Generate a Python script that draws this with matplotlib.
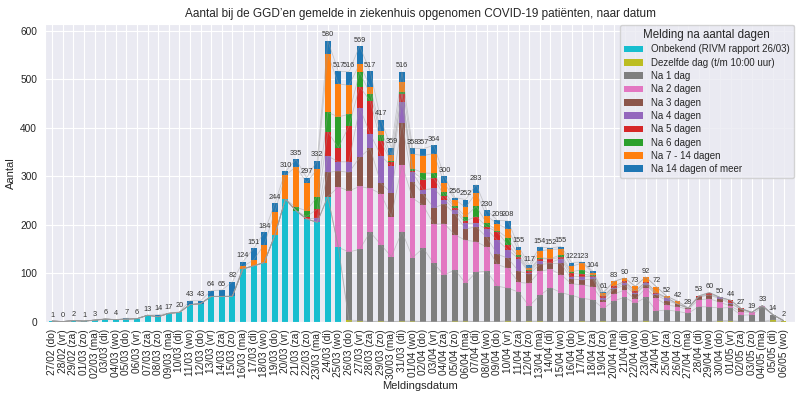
import matplotlib
matplotlib.use("Agg")
import matplotlib.pyplot as plt
import seaborn as sns
import numpy as np

dates = ["27/02 (do)", "28/02 (vr)", "29/02 (za)", "01/03 (zo)", "02/03 (ma)", "03/03 (di)", "04/03 (wo)",
         "05/03 (do)", "06/03 (vr)", "07/03 (za)", "08/03 (zo)", "09/03 (ma)", "10/03 (di)", "11/03 (wo)",
         "12/03 (do)", "13/03 (vr)", "14/03 (za)", "15/03 (zo)", "16/03 (ma)", "17/03 (di)", "18/03 (wo)",
         "19/03 (do)", "20/03 (vr)", "21/03 (za)", "22/03 (zo)", "23/03 (ma)", "24/03 (di)", "25/03 (wo)",
         "26/03 (do)", "27/03 (vr)", "28/03 (za)", "29/03 (zo)", "30/03 (ma)", "31/03 (di)", "01/04 (wo)",
         "02/04 (do)", "03/04 (vr)", "04/04 (za)", "05/04 (zo)", "06/04 (ma)", "07/04 (di)", "08/04 (wo)",
         "09/04 (do)", "10/04 (vr)", "11/04 (za)", "12/04 (zo)", "13/04 (ma)", "14/04 (di)", "15/04 (wo)",
         "16/04 (do)", "17/04 (vr)", "18/04 (za)", "19/04 (zo)", "20/04 (ma)", "21/04 (di)", "22/04 (wo)",
         "23/04 (do)", "24/04 (vr)", "25/04 (za)", "26/04 (zo)", "27/04 (ma)", "28/04 (di)", "29/04 (wo)",
         "30/04 (do)", "01/05 (vr)", "02/05 (za)", "03/05 (zo)", "04/05 (ma)", "05/05 (di)", "06/05 (wo)"]

onbekend = [1, 0, 2, 1, 3, 5, 4, 5, 6, 13, 10, 17, 19, 35, 37, 52, 52, 52, 109, 115,
            122, 178, 253, 229, 212, 205, 258, 153, 0, 0, 0, 0, 0, 0, 0, 0, 0, 0, 0, 0,
            0, 0, 0, 0, 0, 0, 0, 0, 0, 0, 0, 0, 0, 0, 0, 0, 0, 0, 0, 0,
            0, 0, 0, 0, 0, 0, 0, 0, 0, 0]
dezelfde = [0, 0, 0, 0, 0, 0, 0, 0, 0, 0, 0, 0, 0, 0, 0, 0, 0, 0, 0, 0,
            0, 0, 0, 0, 0, 0, 0, 0, 3, 2, 0, 1, 0, 1, 1, 0, 0, 0, 1, 1,
            0, 0, 0, 2, 0, 1, 1, 0, 0, 0, 1, 0, 1, 0, 0, 0, 2, 0, 0, 0,
            0, 0, 0, 2, 2, 0, 0, 0, 4, 2]
na1 = [0, 0, 0, 0, 0, 0, 0, 0, 0, 0, 0, 0, 0, 0, 0, 0, 0, 0, 0, 0,
       0, 0, 0, 0, 0, 0, 0, 0, 141, 147, 185, 158, 134, 185, 131, 152, 120, 96, 106, 78,
       102, 104, 73, 67, 61, 31, 53, 70, 60, 54, 47, 45, 26, 43, 50, 38, 48, 22, 24, 21,
       17, 31, 30, 26, 27, 13, 14, 30, 10, 0]
na2 = [0, 0, 0, 0, 0, 0, 0, 0, 0, 0, 0, 0, 0, 0, 0, 0, 0, 0, 0, 0,
       0, 0, 0, 0, 0, 0, 0, 125, 126, 130, 90, 105, 83, 138, 123, 88, 81, 106, 72, 89,
       63, 50, 45, 41, 20, 47, 50, 38, 37, 24, 28, 27, 14, 14, 15, 8, 19, 26, 10, 10,
       8, 14, 17, 12, 3, 7, 5, 3, 0, 0]
na3 = [0, 0, 0, 0, 0, 0, 0, 0, 0, 0, 0, 0, 0, 0, 0, 0, 0, 0, 0, 0,
       0, 0, 0, 0, 0, 0, 50, 33, 38, 60, 83, 22, 49, 87, 34, 23, 34, 41, 43, 23,
       31, 20, 21, 21, 23, 19, 14, 12, 23, 10, 10, 16, 4, 10, 10, 10, 7, 7, 9, 5,
       2, 6, 8, 7, 5, 5, 0, 0, 0, 0]
na4 = [0, 0, 0, 0, 0, 0, 0, 0, 0, 0, 0, 0, 0, 0, 0, 0, 0, 0, 0, 0,
       0, 0, 0, 0, 0, 9, 34, 19, 22, 103, 30, 57, 55, 42, 19, 9, 40, 9, 8, 12,
       7, 17, 29, 17, 26, 3, 7, 2, 10, 5, 7, 5, 4, 2, 5, 2, 3, 2, 5, 0,
       1, 0, 0, 3, 2, 0, 0, 0, 0, 0]
na5 = [0, 0, 0, 0, 0, 0, 0, 0, 0, 0, 0, 0, 0, 0, 0, 0, 0, 0, 0, 0,
       0, 0, 0, 0, 5, 18, 50, 29, 74, 43, 68, 29, 8, 17, 2, 21, 21, 8, 5, 5,
       14, 5, 17, 10, 4, 3, 5, 7, 3, 7, 5, 2, 3, 4, 3, 5, 3, 3, 1, 0,
       0, 1, 3, 0, 5, 2, 0, 0, 0, 0]
na6 = [0, 0, 0, 0, 0, 0, 0, 0, 0, 0, 0, 0, 0, 0, 0, 0, 0, 0, 0, 0,
       0, 0, 0, 7, 12, 26, 40, 64, 24, 30, 15, 14, 3, 5, 6, 14, 10, 8, 3, 9,
       21, 7, 3, 14, 4, 3, 2, 1, 5, 3, 9, 1, 1, 0, 0, 0, 0, 0, 0, 1,
       0, 1, 2, 0, 0, 0, 0, 0, 0, 0]
na7_14 = [0, 0, 0, 0, 0, 0, 0, 0, 0, 0, 0, 0, 0, 0, 0, 0, 0, 1, 5, 12,
          37, 48, 49, 84, 58, 57, 121, 68, 60, 17, 14, 8, 12, 20, 30, 36, 41, 18, 14, 19,
          28, 15, 14, 19, 9, 4, 14, 19, 12, 11, 14, 5, 6, 10, 7, 10, 10, 12, 3, 5,
          0, 0, 0, 0, 0, 0, 0, 0, 0, 0]
na14plus = [0, 0, 0, 0, 0, 1, 0, 2, 0, 0, 4, 0, 1, 8, 6, 12, 13, 29, 10, 24,
            25, 18, 8, 15, 10, 17, 27, 26, 28, 37, 32, 23, 15, 21, 12, 14, 17, 14, 4, 16,
            17, 12, 7, 17, 8, 6, 8, 3, 5, 8, 2, 3, 2, 0, 0, 0, 0, 0, 0, 0,
            0, 0, 0, 0, 0, 0, 0, 0, 0, 0]

series_labels = ["Onbekend (RIVM rapport 26/03)", "Dezelfde dag (t/m 10:00 uur)", "Na 1 dag",
                 "Na 2 dagen", "Na 3 dagen", "Na 4 dagen", "Na 5 dagen", "Na 6 dagen",
                 "Na 7 - 14 dagen", "Na 14 dagen of meer"]
series = [onbekend, dezelfde, na1, na2, na3, na4, na5, na6, na7_14, na14plus]
colors = ["#17becf", "#bcbd22", "#7f7f7f", "#e377c2", "#8c564b", "#9467bd",
          "#d62728", "#2ca02c", "#ff7f0e", "#1f77b4"]

sns.set_style("darkgrid")
plt.rcParams['font.family'] = ['Liberation Sans', 'DejaVu Sans']

fig = plt.figure(figsize=(8.0, 3.97), dpi=100)
ax = fig.add_axes([0.056, 0.19, 0.938, 0.75])

x = np.arange(len(dates))
bottom = np.zeros(len(dates))
for vals, lab, col in zip(series, series_labels, colors):
    v = np.array(vals, dtype=float)
    ax.bar(x, v, bottom=bottom, width=0.55, color=col, label=lab, linewidth=0, zorder=2)
    bottom = bottom + v
    ax.plot(x, bottom, color="#9a9a9a", lw=0.6, alpha=0.45, zorder=3)

for xi, tot in zip(x, bottom):
    ax.text(xi, tot + 5, f"{int(tot)}", ha="center", va="bottom", fontsize=5.3, color="#333333", zorder=4)

ax.set_xticks(x)
ax.set_xticklabels(dates, rotation=90, fontsize=7.3)
ax.set_yticks(np.arange(0, 601, 100))
ax.tick_params(axis='y', labelsize=7.3, pad=2)
ax.tick_params(axis='x', pad=2)
ax.set_xlim(-0.7, 70.1)
ax.set_ylim(0, 615)
ax.set_xlabel("Meldingsdatum", fontsize=8, labelpad=2)
ax.set_ylabel("Aantal", fontsize=8, labelpad=3)
ax.set_title("Aantal bij de GGD\u2019en gemelde in ziekenhuis opgenomen COVID-19 patiënten, naar datum",
             fontsize=8.5, pad=5)

leg = ax.legend(loc="upper right", title="Melding na aantal dagen", fontsize=7, title_fontsize=8.3,
                labelspacing=0.34, borderaxespad=0.15, frameon=True)

fig.savefig("out.png", dpi=100)
